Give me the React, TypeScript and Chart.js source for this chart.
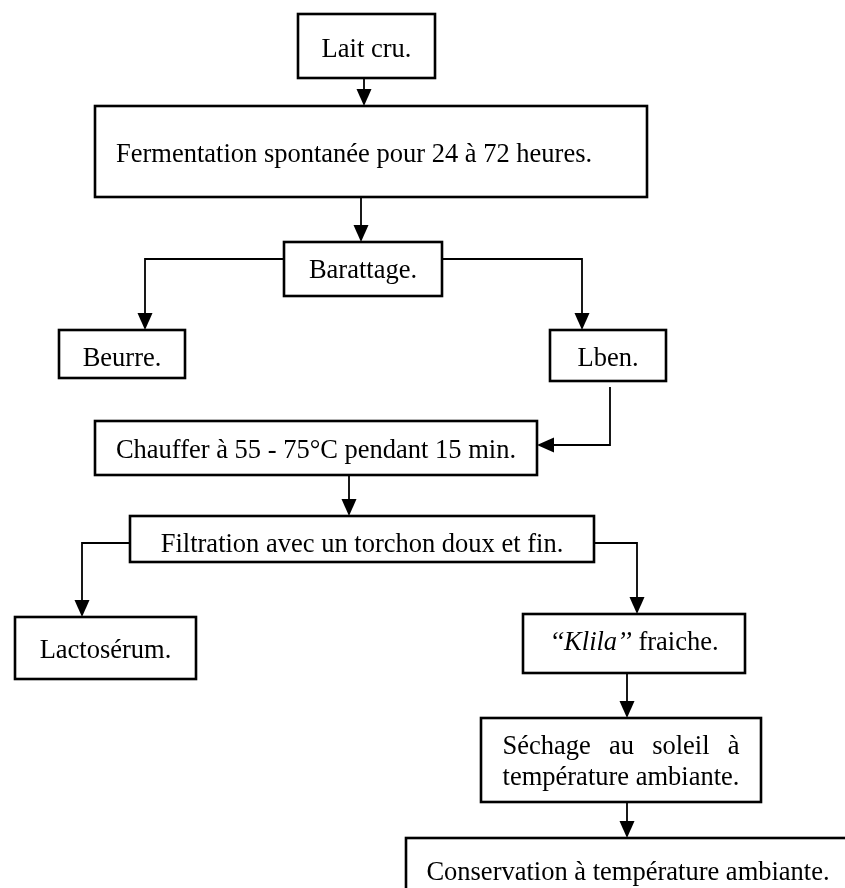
import React, { useEffect, useRef } from "react";
import { Chart, registerables } from "chart.js";

Chart.register(...registerables);

// Flowchart nodes (data units: x 0..845, y 0..888 from the top)
const nodeLabels: string[] = [
  "Lait cru.",
  "Fermentation spontanée pour 24 à 72 heures.",
  "Barattage.",
  "Beurre.",
  "Lben.",
  "Chauffer à 55 - 75°C pendant 15 min.",
  "Filtration avec un torchon doux et fin.",
  "Lactosérum.",
  "*\u2018\u2018Klila\u2019\u2019* fraiche.",
  "Séchage au soleil à|température ambiante.",
  "Conservation à température ambiante.",
];
const nodeLeft: number[] = [298, 95, 284, 59, 550, 95, 130, 15, 523, 481, 406];
const nodeRight: number[] = [435, 647, 442, 185, 666, 537, 594, 196, 745, 761, 850];
const nodeTop: number[] = [14, 106, 242, 330, 330, 421, 516, 617, 614, 718, 838];
const nodeBottom: number[] = [78, 197, 296, 378, 381, 475, 562, 679, 673, 802, 905];
const nodeTextY: number[] = [57, 162, 278, 366, 366, 458, 552, 658, 650, 754, 880];
const nodeAlign: string[] = [
  "center", "left", "center", "center", "center", "center",
  "center", "center", "center", "justify", "center",
];

// Connectors (polylines ending with an arrowhead)
const connectors: number[][][] = [
  [[364, 78], [364, 106]],
  [[361, 197], [361, 242]],
  [[284, 259], [145, 259], [145, 330]],
  [[442, 259], [582, 259], [582, 330]],
  [[610, 387], [610, 445], [537, 445]],
  [[349, 475], [349, 516]],
  [[130, 543], [82, 543], [82, 617]],
  [[594, 543], [637, 543], [637, 614]],
  [[627, 673], [627, 718]],
  [[627, 802], [627, 838]],
];

const FONT_SIZE = 26.5;
const FONT_FAMILY = '"Liberation Serif", "Times New Roman", serif';
const LINE_GAP = 31;

const flowPlugin = {
  id: "flowchart",
  afterDatasetsDraw(chart: any) {
    const ctx: CanvasRenderingContext2D = chart.ctx;
    const xs = chart.scales.x;
    const ys = chart.scales.y;
    const px = (v: number) => xs.getPixelForValue(v);
    const py = (v: number) => ys.getPixelForValue(v);
    const normal = `${FONT_SIZE}px ${FONT_FAMILY}`;
    const italic = `italic ${FONT_SIZE}px ${FONT_FAMILY}`;

    ctx.save();
    ctx.fillStyle = "#ffffff";
    ctx.fillRect(0, 0, chart.width, chart.height);

    // connectors
    ctx.strokeStyle = "#000";
    ctx.fillStyle = "#000";
    ctx.lineWidth = 1.8;
    ctx.lineCap = "butt";
    ctx.lineJoin = "miter";
    connectors.forEach((pts) => {
      const n = pts.length;
      const tip = pts[n - 1];
      const prev = pts[n - 2];
      const tx = px(tip[0]);
      const ty = py(tip[1]);
      const dx = tx - px(prev[0]);
      const dy = ty - py(prev[1]);
      const len = Math.hypot(dx, dy) || 1;
      const ux = dx / len;
      const uy = dy / len;
      const headLen = 17;
      const headHalf = 7.5;
      ctx.beginPath();
      ctx.moveTo(px(pts[0][0]), py(pts[0][1]));
      for (let i = 1; i < n - 1; i++) ctx.lineTo(px(pts[i][0]), py(pts[i][1]));
      ctx.lineTo(tx - ux * headLen, ty - uy * headLen);
      ctx.stroke();
      ctx.beginPath();
      ctx.moveTo(tx, ty);
      ctx.lineTo(tx - ux * headLen - uy * headHalf, ty - uy * headLen + ux * headHalf);
      ctx.lineTo(tx - ux * headLen + uy * headHalf, ty - uy * headLen - ux * headHalf);
      ctx.closePath();
      ctx.fill();
    });

    // boxes
    ctx.lineWidth = 2.6;
    ctx.strokeStyle = "#000";
    nodeLabels.forEach((_, i) => {
      const x0 = px(nodeLeft[i]);
      const x1 = px(nodeRight[i]);
      const y0 = py(nodeTop[i]);
      const y1 = py(nodeBottom[i]);
      ctx.fillStyle = "#fff";
      ctx.fillRect(x0, y0, x1 - x0, y1 - y0);
      ctx.strokeRect(x0, y0, x1 - x0, y1 - y0);
    });

    // text
    ctx.fillStyle = "#000";
    ctx.textBaseline = "alphabetic";
    ctx.textAlign = "left";
    const parse = (s: string) => {
      const segs: { t: string; it: boolean }[] = [];
      const parts = s.split("*");
      parts.forEach((p, k) => {
        if (p.length) segs.push({ t: p, it: k % 2 === 1 });
      });
      return segs;
    };
    const measure = (segs: { t: string; it: boolean }[]) =>
      segs.reduce((w, sg) => {
        ctx.font = sg.it ? italic : normal;
        return w + ctx.measureText(sg.t).width;
      }, 0);
    const drawSegs = (segs: { t: string; it: boolean }[], x: number, y: number) => {
      let cx = x;
      segs.forEach((sg) => {
        ctx.font = sg.it ? italic : normal;
        ctx.fillText(sg.t, cx, y);
        cx += ctx.measureText(sg.t).width;
      });
    };

    nodeLabels.forEach((label, i) => {
      const x0 = px(nodeLeft[i]);
      const x1 = px(nodeRight[i]);
      const y = py(nodeTextY[i]);
      const align = nodeAlign[i];
      if (align === "justify") {
        const lines = label.split("|");
        ctx.font = normal;
        const widths = lines.map((l) => ctx.measureText(l).width);
        const fullW = Math.max(...widths);
        const startX = (x0 + x1) / 2 - fullW / 2;
        lines.forEach((line, li) => {
          const ly = y + li * LINE_GAP;
          if (li < lines.length - 1) {
            const words = line.split(" ");
            const ww = words.map((w) => ctx.measureText(w).width);
            const sum = ww.reduce((a, b) => a + b, 0);
            const gap = (fullW - sum) / (words.length - 1);
            let cx = startX;
            words.forEach((w, k) => {
              ctx.fillText(w, cx, ly);
              cx += ww[k] + gap;
            });
          } else {
            ctx.fillText(line, startX, ly);
          }
        });
      } else {
        const segs = parse(label);
        const w = measure(segs);
        const startX = align === "left" ? x0 + 21 : (x0 + x1) / 2 - w / 2;
        drawSegs(segs, startX, y);
      }
    });
    ctx.restore();
  },
};

export default function App() {
  const canvasRef = useRef<HTMLCanvasElement | null>(null);

  useEffect(() => {
    const canvas = canvasRef.current;
    if (!canvas) return;
    const centers = nodeLabels.map((_, i) => ({
      x: (nodeLeft[i] + nodeRight[i]) / 2,
      y: (nodeTop[i] + nodeBottom[i]) / 2,
    }));
    const chart = new Chart(canvas, {
      type: "scatter",
      data: {
        datasets: [
          {
            label: "nodes",
            data: centers,
            pointRadius: 0,
            pointHoverRadius: 0,
          },
        ],
      },
      options: {
        animation: false,
        responsive: false,
        maintainAspectRatio: false,
        layout: { padding: 0 },
        events: [],
        plugins: {
          legend: { display: false },
          tooltip: { enabled: false },
          title: { display: false },
        },
        scales: {
          x: { type: "linear", min: 0, max: 845, display: false },
          y: { type: "linear", min: 0, max: 888, reverse: true, display: false },
        },
      },
      plugins: [flowPlugin],
    });
    return () => chart.destroy();
  }, []);

  return (
    <div style={{ position: "fixed", left: 0, top: 0, width: 845, height: 888, background: "#fff" }}>
      <canvas ref={canvasRef} width={845} height={888} style={{ display: "block", width: 845, height: 888 }} />
    </div>
  );
}
